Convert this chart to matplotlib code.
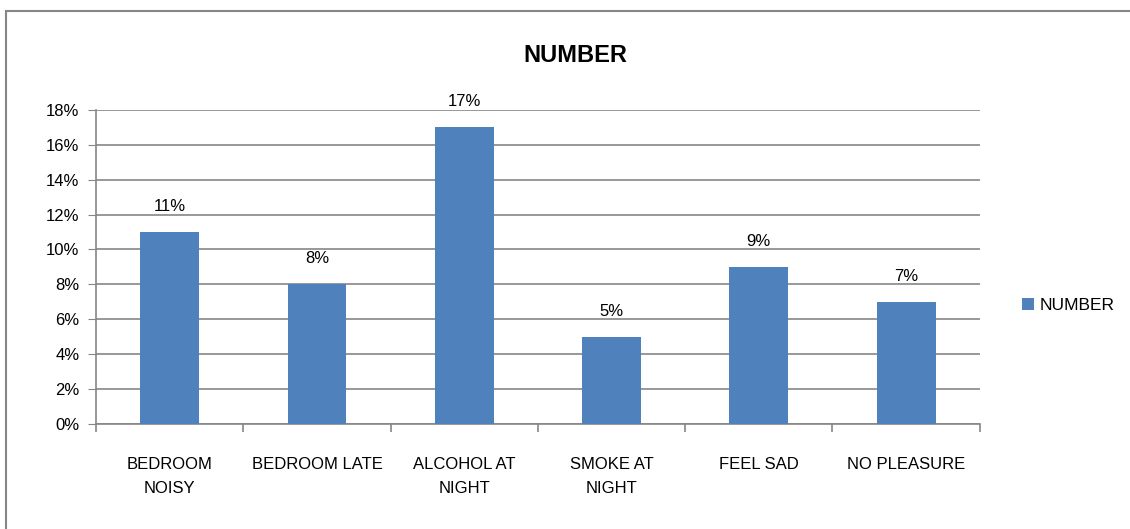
import numpy as np
import matplotlib.pyplot as plt
from matplotlib.patches import Rectangle

categories = ["BEDROOM\nNOISY", "BEDROOM LATE", "ALCOHOL AT\nNIGHT", "SMOKE AT\nNIGHT", "FEEL SAD", "NO PLEASURE"]
values = [11, 8, 17, 5, 9, 7]
yticks = [0, 2, 4, 6, 8, 10, 12, 14, 16, 18]

plt.rcParams['font.family'] = ['Liberation Sans', 'DejaVu Sans']

fig = plt.figure(figsize=(11.3, 5.29), dpi=100)
ax = fig.add_axes([0.085, 0.1985, 0.782, 0.594])

x = np.arange(len(categories))
bars = ax.bar(x, values, width=0.4, color="#4F81BD", label="NUMBER", zorder=3)

for xi, v in zip(x, values):
    ax.annotate(f"{v}%", (xi, v), xytext=(0, 13), textcoords="offset points",
                ha="center", va="bottom", fontsize=12)

ax.set_xlim(-0.5, len(categories) - 0.5)
ax.set_ylim(0, 18)
ax.set_yticks(yticks)
ax.set_yticklabels([f"{t}%" for t in yticks], fontsize=12)
ax.yaxis.grid(True, color="#868686", linewidth=1.2, zorder=0)
ax.tick_params(axis="y", length=6, color="#868686", pad=6)

ax.set_xticks(x)
ax.set_xticklabels(categories, fontsize=12, linespacing=1.75)
ax.tick_params(axis="x", length=0, pad=24)
ax.set_xticks(np.arange(len(categories) + 1) - 0.5, minor=True)
ax.tick_params(axis="x", which="minor", length=6, color="#868686", width=1.2)

for s in ["top", "right"]:
    ax.spines[s].set_visible(False)
for s in ["left", "bottom"]:
    ax.spines[s].set_color("#868686")
    ax.spines[s].set_linewidth(1.2)

fig.text(0.509, 0.895, "NUMBER", ha="center", va="center", fontsize=17, fontweight="bold")

ax.legend(loc="center left", bbox_to_anchor=(1.03, 0.376), frameon=False,
          fontsize=12.5, handlelength=0.7, handleheight=0.7, handletextpad=0.3)

fig.patches.append(Rectangle((6 / 1130, -0.05), 1.2, (529 - 11) / 529 + 0.05,
                             transform=fig.transFigure, fill=False,
                             edgecolor="#868686", linewidth=1.5))

fig.savefig("out.png", dpi=100)
